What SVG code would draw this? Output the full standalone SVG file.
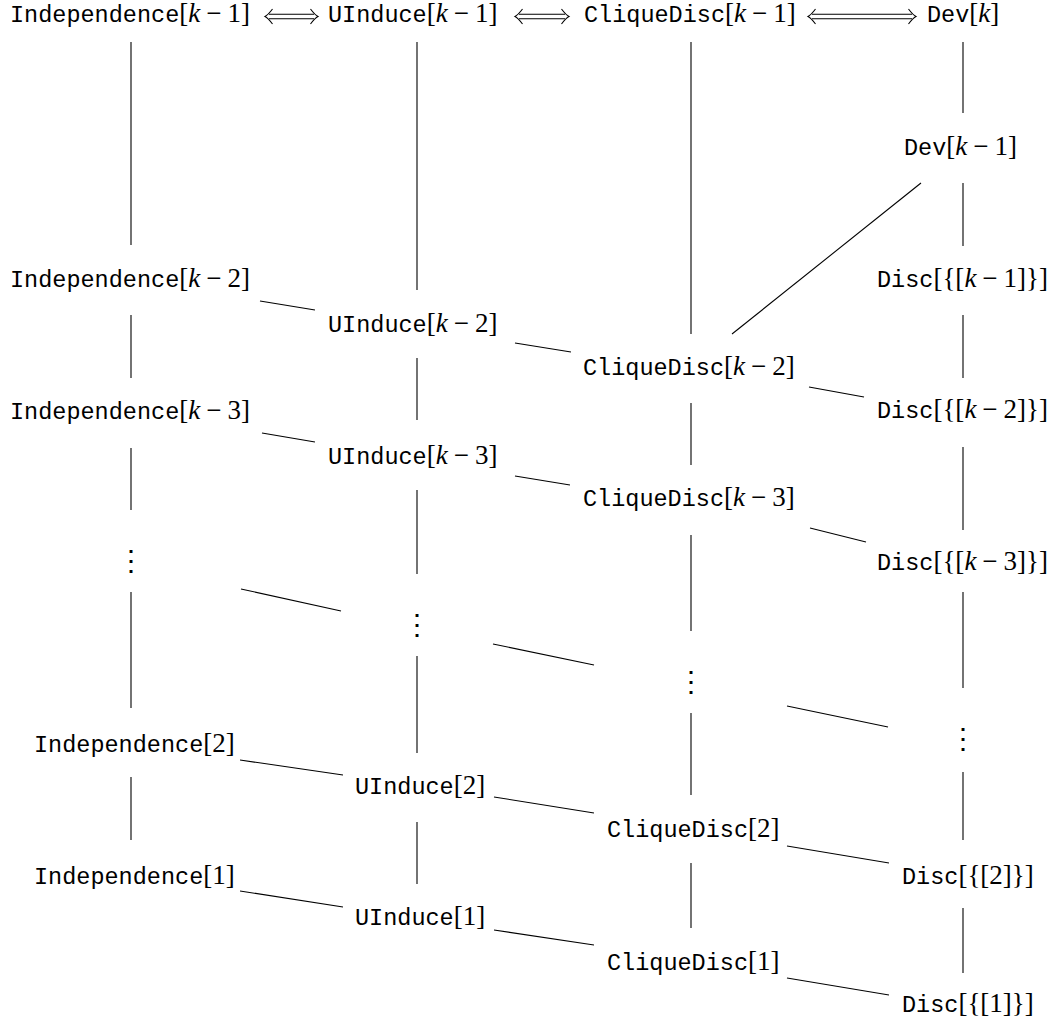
<svg xmlns="http://www.w3.org/2000/svg" width="1055" height="1026" viewBox="0 0 1055 1026">
<style>
.n text{font-family:"Liberation Mono","DejaVu Sans Mono",monospace;font-size:23.5px;fill:#000}
.n .m{font-family:"Liberation Serif","Times New Roman","DejaVu Serif",serif;font-size:27px}
.n .k{font-style:italic}
.dots{font-family:"DejaVu Serif",serif;font-size:28px;text-anchor:middle;fill:#000}
#connectors line,#connectors use{stroke:#000;stroke-width:1.1;fill:none}
</style>
<defs>
<path id="lh" d="M7.5,-7.5 Q3,-1.5 0,0 Q3,1.5 7.5,7.5"/>
<path id="rh" d="M-7.5,-7.5 Q-3,-1.5 0,0 Q-3,1.5 -7.5,7.5"/>
</defs>
<g id="connectors">
<!-- double arrows -->
<g id="arr1"><line x1="269" y1="14.3" x2="314" y2="14.3"/><line x1="269" y1="18.7" x2="314" y2="18.7"/><use href="#lh" x="265" y="16.5"/><use href="#rh" x="318" y="16.5"/></g>
<g id="arr2"><line x1="519" y1="14.3" x2="565" y2="14.3"/><line x1="519" y1="18.7" x2="565" y2="18.7"/><use href="#lh" x="515" y="16.5"/><use href="#rh" x="569" y="16.5"/></g>
<g id="arr3"><line x1="812" y1="14.3" x2="912" y2="14.3"/><line x1="812" y1="18.7" x2="912" y2="18.7"/><use href="#lh" x="808" y="16.5"/><use href="#rh" x="916" y="16.5"/></g>
<!-- column 1 -->
<line x1="131" y1="42" x2="131" y2="245"/>
<line x1="131" y1="315" x2="131" y2="378"/>
<line x1="131" y1="448" x2="131" y2="510"/>
<line x1="131" y1="592" x2="131" y2="708"/>
<line x1="131" y1="777" x2="131" y2="840"/>
<!-- column 2 -->
<line x1="417" y1="42" x2="417" y2="290"/>
<line x1="417" y1="358" x2="417" y2="420"/>
<line x1="417" y1="490" x2="417" y2="574"/>
<line x1="417" y1="656" x2="417" y2="753"/>
<line x1="417" y1="822" x2="417" y2="884"/>
<!-- column 3 -->
<line x1="691" y1="42" x2="691" y2="334"/>
<line x1="691" y1="403" x2="691" y2="465"/>
<line x1="691" y1="535" x2="691" y2="631"/>
<line x1="691" y1="713" x2="691" y2="795"/>
<line x1="691" y1="863" x2="691" y2="928"/>
<!-- column 4 -->
<line x1="963" y1="42" x2="963" y2="113"/>
<line x1="963" y1="183" x2="963" y2="246"/>
<line x1="963" y1="315" x2="963" y2="378"/>
<line x1="963" y1="447" x2="963" y2="530"/>
<line x1="963" y1="592" x2="963" y2="688"/>
<line x1="963" y1="772" x2="963" y2="840"/>
<line x1="963" y1="908" x2="963" y2="973"/>
<!-- diagonal -->
<line x1="921" y1="183" x2="732" y2="334"/>
<!-- slanted -->
<line x1="260" y1="301" x2="315" y2="310"/>
<line x1="515" y1="343" x2="571" y2="352"/>
<line x1="809" y1="387" x2="864" y2="397"/>
<line x1="262" y1="433" x2="315" y2="442"/>
<line x1="515" y1="476" x2="570" y2="485"/>
<line x1="810" y1="528" x2="866" y2="542"/>
<line x1="241" y1="589" x2="341" y2="611"/>
<line x1="493" y1="644" x2="594" y2="665"/>
<line x1="787" y1="706" x2="888" y2="727"/>
<line x1="240" y1="760" x2="343" y2="775"/>
<line x1="494" y1="797" x2="594" y2="813"/>
<line x1="787" y1="846" x2="889" y2="863"/>
<line x1="240" y1="891" x2="343" y2="907"/>
<line x1="494" y1="930" x2="594" y2="945"/>
<line x1="787" y1="978" x2="889" y2="995"/>
</g>
<g id="indep-k1" class="n"><text x="10" y="22">Independence<tspan class="m">[<tspan class="k">k</tspan><tspan dx="6">−</tspan><tspan dx="6">1]</tspan></tspan></text></g>
<g id="uinduce-k1" class="n"><text x="328" y="22">UInduce<tspan class="m">[<tspan class="k">k</tspan><tspan dx="6">−</tspan><tspan dx="6">1]</tspan></tspan></text></g>
<g id="clique-k1" class="n"><text x="584" y="22">CliqueDisc<tspan class="m">[<tspan class="k">k</tspan><tspan dx="6">−</tspan><tspan dx="6">1]</tspan></tspan></text></g>
<g id="dev-k" class="n"><text x="927" y="22">Dev<tspan class="m">[<tspan class="k">k</tspan>]</tspan></text></g>
<g id="dev-k1" class="n"><text x="904" y="155">Dev<tspan class="m">[<tspan class="k">k</tspan><tspan dx="6">−</tspan><tspan dx="6">1]</tspan></tspan></text></g>
<g id="indep-k2" class="n"><text x="10" y="287">Independence<tspan class="m">[<tspan class="k">k</tspan><tspan dx="6">−</tspan><tspan dx="6">2]</tspan></tspan></text></g>
<g id="disc-k1" class="n"><text x="877" y="287">Disc<tspan class="m">[{[<tspan class="k">k</tspan><tspan dx="6">−</tspan><tspan dx="6">1]}]</tspan></tspan></text></g>
<g id="uinduce-k2" class="n"><text x="328" y="332">UInduce<tspan class="m">[<tspan class="k">k</tspan><tspan dx="6">−</tspan><tspan dx="6">2]</tspan></tspan></text></g>
<g id="clique-k2" class="n"><text x="583" y="375">CliqueDisc<tspan class="m">[<tspan class="k">k</tspan><tspan dx="6">−</tspan><tspan dx="6">2]</tspan></tspan></text></g>
<g id="disc-k2" class="n"><text x="877" y="418">Disc<tspan class="m">[{[<tspan class="k">k</tspan><tspan dx="6">−</tspan><tspan dx="6">2]}]</tspan></tspan></text></g>
<g id="indep-k3" class="n"><text x="10" y="419">Independence<tspan class="m">[<tspan class="k">k</tspan><tspan dx="6">−</tspan><tspan dx="6">3]</tspan></tspan></text></g>
<g id="uinduce-k3" class="n"><text x="328" y="464">UInduce<tspan class="m">[<tspan class="k">k</tspan><tspan dx="6">−</tspan><tspan dx="6">3]</tspan></tspan></text></g>
<g id="clique-k3" class="n"><text x="583" y="506">CliqueDisc<tspan class="m">[<tspan class="k">k</tspan><tspan dx="6">−</tspan><tspan dx="6">3]</tspan></tspan></text></g>
<g id="disc-k3" class="n"><text x="877" y="570">Disc<tspan class="m">[{[<tspan class="k">k</tspan><tspan dx="6">−</tspan><tspan dx="6">3]}]</tspan></tspan></text></g>
<g id="indep-dots"><text class="dots" x="131" y="570">⋮</text></g>
<g id="uinduce-dots"><text class="dots" x="417" y="634">⋮</text></g>
<g id="clique-dots"><text class="dots" x="691" y="691">⋮</text></g>
<g id="disc-dots"><text class="dots" x="963" y="748">⋮</text></g>
<g id="indep-2" class="n"><text x="34" y="752">Independence<tspan class="m">[2]</tspan></text></g>
<g id="uinduce-2" class="n"><text x="355" y="794">UInduce<tspan class="m">[2]</tspan></text></g>
<g id="clique-2" class="n"><text x="607" y="837">CliqueDisc<tspan class="m">[2]</tspan></text></g>
<g id="disc-2" class="n"><text x="902" y="884">Disc<tspan class="m">[{[2]}]</tspan></text></g>
<g id="indep-1" class="n"><text x="34" y="884">Independence<tspan class="m">[1]</tspan></text></g>
<g id="uinduce-1" class="n"><text x="355" y="925">UInduce<tspan class="m">[1]</tspan></text></g>
<g id="clique-1" class="n"><text x="607" y="970">CliqueDisc<tspan class="m">[1]</tspan></text></g>
<g id="disc-1" class="n"><text x="902" y="1012">Disc<tspan class="m">[{[1]}]</tspan></text></g>
</svg>
